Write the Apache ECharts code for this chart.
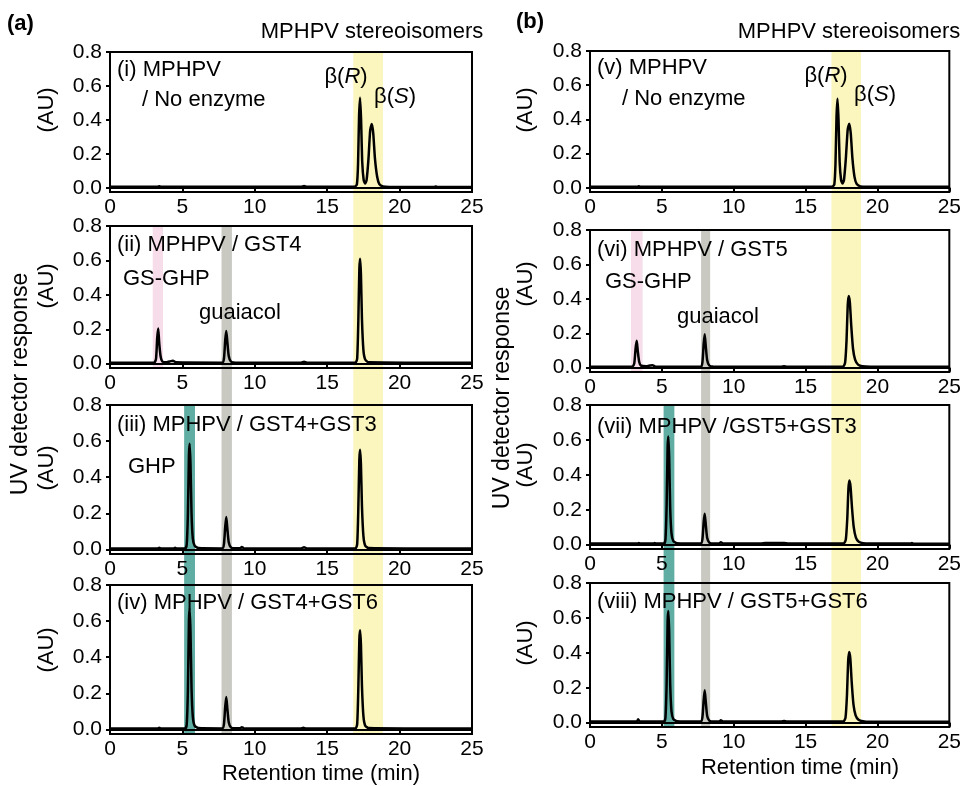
<!DOCTYPE html>
<html>
<head>
<meta charset="utf-8">
<title>MPHPV chromatograms</title>
<script src="https://cdn.jsdelivr.net/npm/echarts@6/dist/echarts.min.js"></script>
<style>
  html, body { margin: 0; padding: 0; background: #fff; }
  #chart { width: 964px; height: 786px; }
</style>
</head>
<body>
<div id="chart"></div>
<script>
// ---- Axis ticks ----
const timeTicks = [0, 5, 10, 15, 20, 25];
const auTicks = [0, 0.2, 0.4, 0.6, 0.8];

// ---- Chromatogram traces: [retention time (min), absorbance (AU)] ----
const traceI = [
  [0, 0.006], [3.3, 0.006], [3.4, 0.009], [3.5, 0.006], [13.2, 0.006], [13.4, 0.01], [13.6, 0.006],
  [16.9, 0.006], [17.05, 0.02], [17.13, 0.14], [17.2, 0.42], [17.27, 0.53], [17.34, 0.4], [17.42, 0.15],
  [17.52, 0.045], [17.62, 0.025], [17.72, 0.045], [17.85, 0.17], [17.97, 0.34], [18.08, 0.375],
  [18.18, 0.32], [18.3, 0.17], [18.45, 0.065], [18.6, 0.022], [18.85, 0.008], [19.3, 0.005],
  [22.4, 0.005], [22.5, 0.008], [22.6, 0.005], [25, 0.005]
];
const traceII = [
  [0, 0.006], [3.05, 0.006], [3.18, 0.03], [3.26, 0.15], [3.33, 0.205], [3.4, 0.12], [3.5, 0.04],
  [3.62, 0.012], [3.9, 0.008], [4.2, 0.015], [4.35, 0.017], [4.55, 0.008], [7.75, 0.006], [7.87, 0.03],
  [7.96, 0.14], [8.03, 0.19], [8.1, 0.13], [8.2, 0.045], [8.35, 0.013], [8.6, 0.007], [13.2, 0.006],
  [13.4, 0.012], [13.6, 0.006], [16.95, 0.006], [17.07, 0.03], [17.15, 0.25], [17.22, 0.55],
  [17.27, 0.61], [17.33, 0.52], [17.4, 0.26], [17.5, 0.08], [17.62, 0.025], [17.85, 0.008], [25, 0.005]
];
const traceIII = [
  [0, 0.006], [3.3, 0.006], [3.4, 0.01], [3.5, 0.006], [4.4, 0.006], [4.5, 0.009], [4.6, 0.006],
  [5.2, 0.006], [5.3, 0.03], [5.38, 0.2], [5.45, 0.52], [5.5, 0.585], [5.56, 0.47], [5.63, 0.2],
  [5.72, 0.06], [5.85, 0.02], [6.1, 0.008], [7.75, 0.006], [7.87, 0.03], [7.96, 0.13], [8.03, 0.18],
  [8.1, 0.12], [8.2, 0.04], [8.35, 0.012], [8.6, 0.007], [9.0, 0.007], [9.1, 0.014], [9.25, 0.007],
  [13.2, 0.006], [13.4, 0.012], [13.6, 0.006], [16.95, 0.006], [17.07, 0.03], [17.15, 0.23],
  [17.22, 0.5], [17.27, 0.552], [17.33, 0.47], [17.4, 0.24], [17.5, 0.075], [17.62, 0.022],
  [17.85, 0.008], [25, 0.005]
];
const traceIV = [
  [0, 0.006], [3.3, 0.006], [3.4, 0.01], [3.5, 0.006], [5.2, 0.006], [5.3, 0.03], [5.38, 0.22],
  [5.45, 0.6], [5.5, 0.67], [5.56, 0.54], [5.63, 0.23], [5.72, 0.07], [5.85, 0.02], [6.1, 0.008],
  [7.75, 0.006], [7.87, 0.03], [7.96, 0.13], [8.03, 0.18], [8.1, 0.12], [8.2, 0.04], [8.35, 0.012],
  [8.6, 0.007], [9.0, 0.007], [9.1, 0.013], [9.25, 0.007], [13.2, 0.006], [13.35, 0.01], [13.5, 0.006],
  [16.95, 0.006], [17.07, 0.03], [17.15, 0.23], [17.22, 0.5], [17.27, 0.55], [17.33, 0.47],
  [17.4, 0.24], [17.5, 0.075], [17.62, 0.022], [17.85, 0.008], [25, 0.005]
];
const traceV = [
  [0, 0.006], [3.3, 0.006], [3.4, 0.008], [3.5, 0.006], [16.85, 0.006], [17.0, 0.02], [17.08, 0.14],
  [17.15, 0.41], [17.22, 0.52], [17.29, 0.4], [17.37, 0.15], [17.47, 0.045], [17.57, 0.025],
  [17.67, 0.045], [17.8, 0.17], [17.93, 0.34], [18.04, 0.375], [18.14, 0.32], [18.26, 0.17],
  [18.4, 0.065], [18.55, 0.022], [18.8, 0.008], [19.3, 0.005], [25, 0.005]
];
const traceVI = [
  [0, 0.006], [2.95, 0.006], [3.08, 0.025], [3.17, 0.11], [3.25, 0.156], [3.32, 0.1], [3.42, 0.035],
  [3.55, 0.012], [3.9, 0.008], [4.2, 0.013], [4.35, 0.014], [4.55, 0.007], [7.7, 0.006], [7.82, 0.03],
  [7.91, 0.14], [7.98, 0.195], [8.05, 0.13], [8.15, 0.045], [8.3, 0.013], [8.55, 0.007], [13.3, 0.006],
  [13.5, 0.009], [13.7, 0.006], [17.6, 0.006], [17.75, 0.03], [17.85, 0.16], [17.93, 0.36],
  [18.0, 0.417], [18.08, 0.38], [18.18, 0.24], [18.3, 0.11], [18.45, 0.045], [18.65, 0.018],
  [18.95, 0.008], [19.5, 0.005], [25, 0.005]
];
const traceVII = [
  [0, 0.006], [3.3, 0.006], [3.4, 0.01], [3.5, 0.006], [4.4, 0.006], [4.5, 0.01], [4.6, 0.006],
  [5.15, 0.006], [5.25, 0.03], [5.33, 0.22], [5.4, 0.56], [5.45, 0.62], [5.51, 0.5], [5.58, 0.21],
  [5.67, 0.065], [5.8, 0.02], [6.05, 0.008], [7.7, 0.006], [7.82, 0.03], [7.91, 0.13], [7.98, 0.177],
  [8.05, 0.12], [8.15, 0.04], [8.3, 0.012], [8.55, 0.007], [9.0, 0.007], [9.1, 0.014], [9.25, 0.007],
  [11.9, 0.006], [12.2, 0.01], [13.5, 0.01], [13.8, 0.006], [17.65, 0.006], [17.8, 0.03],
  [17.9, 0.15], [17.98, 0.32], [18.05, 0.367], [18.13, 0.33], [18.23, 0.21], [18.35, 0.1],
  [18.5, 0.04], [18.7, 0.016], [19.0, 0.008], [20.3, 0.006], [22.3, 0.006], [22.4, 0.009],
  [22.5, 0.006], [25, 0.005]
];
const traceVIII = [
  [0, 0.006], [3.25, 0.006], [3.35, 0.02], [3.45, 0.008], [5.15, 0.006], [5.25, 0.03], [5.33, 0.22],
  [5.4, 0.58], [5.45, 0.64], [5.51, 0.52], [5.58, 0.22], [5.67, 0.065], [5.8, 0.02], [6.05, 0.008],
  [7.7, 0.006], [7.82, 0.03], [7.91, 0.13], [7.98, 0.185], [8.05, 0.125], [8.15, 0.04], [8.3, 0.012],
  [8.55, 0.007], [9.0, 0.007], [9.1, 0.013], [9.25, 0.007], [13.3, 0.006], [13.5, 0.009],
  [13.7, 0.006], [17.63, 0.006], [17.78, 0.03], [17.88, 0.16], [17.96, 0.35], [18.03, 0.405],
  [18.11, 0.37], [18.21, 0.23], [18.33, 0.105], [18.48, 0.042], [18.68, 0.017], [18.98, 0.008],
  [19.5, 0.005], [25, 0.005]
];

const traces = [traceI, traceII, traceIII, traceIV, traceV, traceVI, traceVII, traceVIII];

// ---- Highlighted retention windows (min) ----
const yellowWindow = [16.8, 18.85];   // MPHPV stereoisomers
const grayWindowA = [7.7, 8.42];      // guaiacol
const grayWindowB = [7.73, 8.36];
const pinkWindowA = [2.95, 3.66];     // GS-GHP
const pinkWindowB = [2.85, 3.66];
const tealWindow = [5.12, 5.87];      // GHP

// ---- Layout ----
const FONT = 'Liberation Sans, Arial, sans-serif';
const TICK_SIZE = 21;
const NOTE_SIZE = 22;
const PLOT_W = 362;
const panelBoxes = [
  { left: 110, top: 52, height: 140 },
  { left: 110, top: 226, height: 142 },
  { left: 110, top: 405, height: 149 },
  { left: 110, top: 585, height: 149 },
  { left: 590, top: 51, height: 141 },
  { left: 590, top: 230, height: 142 },
  { left: 590, top: 405, height: 144 },
  { left: 590, top: 583, height: 144 }
];
const Y_MIN = -0.025, Y_MAX = 0.8;

const chart = echarts.init(document.getElementById('chart'));

const grids = [], xAxes = [], yAxes = [], series = [];
panelBoxes.forEach((b, i) => {
  grids.push({
    left: b.left, top: b.top, width: PLOT_W, height: b.height,
    show: true, borderColor: '#000', borderWidth: 2, backgroundColor: 'transparent', z: 1
  });
  xAxes.push({
    type: 'value', gridIndex: i, min: timeTicks[0], max: timeTicks[timeTicks.length - 1], interval: 5,
    axisLine: { show: true, lineStyle: { color: '#000', width: 2 } },
    axisTick: { show: true, inside: false, length: 4, lineStyle: { color: '#000', width: 2 } },
    axisLabel: { show: true, color: '#000', fontSize: TICK_SIZE, fontFamily: FONT, margin: 5 },
    splitLine: { show: false }
  });
  yAxes.push({
    type: 'value', gridIndex: i, min: Y_MIN, max: Y_MAX,
    axisLine: { show: true, lineStyle: { color: '#000', width: 2 } },
    axisTick: { show: true, inside: false, length: 4, customValues: auTicks, lineStyle: { color: '#000', width: 2 } },
    axisLabel: {
      show: true, color: '#000', fontSize: TICK_SIZE, fontFamily: FONT, margin: 8,
      customValues: auTicks, formatter: v => v.toFixed(1)
    },
    splitLine: { show: false }
  });
  series.push({
    type: 'line', xAxisIndex: i, yAxisIndex: i, data: traces[i],
    showSymbol: false, smooth: 0.2, z: 5,
    lineStyle: { color: '#000', width: 2.5 }
  });
});

chart.setOption({
  animation: false,
  backgroundColor: '#fff',
  grid: grids,
  xAxis: xAxes,
  yAxis: yAxes,
  series: series
});

// ---- Shaded retention windows spanning several panels ----
function band(range, firstPanel, lastPanel, color) {
  const p0 = chart.convertToPixel({ gridIndex: firstPanel }, [range[0], Y_MAX]);
  const p1 = chart.convertToPixel({ gridIndex: lastPanel }, [range[1], Y_MIN]);
  return {
    type: 'rect', z: -5, silent: true,
    shape: { x: p0[0], y: p0[1], width: p1[0] - p0[0], height: p1[1] - p0[1] },
    style: { fill: color }
  };
}
const YELLOW = '#fbf5be', GRAY = '#c9c9c2', PINK = '#f7dcea', TEAL = '#5fada3';

function txt(x, y, text, opts) {
  return Object.assign({
    type: 'text', x: x, y: y, z: 10, silent: true,
    style: Object.assign({
      text: text, fill: '#000', fontSize: NOTE_SIZE, fontFamily: FONT,
      align: 'left', verticalAlign: 'middle'
    }, (opts && opts.style) || {})
  }, (opts && opts.el) || {});
}
function centered(x, y, text, size) {
  return txt(x, y, text, { style: { align: 'center', fontSize: size || NOTE_SIZE } });
}
function rotated(x, y, text, size) {
  return txt(x, y, text, { style: { align: 'center', fontSize: size || NOTE_SIZE }, el: { rotation: Math.PI / 2 } });
}
function beta(x, y, iso) {
  return txt(x, y, 'β({it|' + iso + '})', {
    style: { align: 'center', rich: { it: { fontStyle: 'italic', fontSize: NOTE_SIZE, fontFamily: FONT } } }
  });
}

const graphics = [
  band(yellowWindow, 0, 3, YELLOW),
  band(grayWindowA, 1, 3, GRAY),
  band(pinkWindowA, 1, 1, PINK),
  band(tealWindow, 2, 3, TEAL),
  band(yellowWindow, 4, 7, YELLOW),
  band(grayWindowB, 5, 7, GRAY),
  band(pinkWindowB, 5, 5, PINK),
  band(tealWindow, 6, 7, TEAL),

  // headers
  txt(7, 24, '(a)', { style: { fontWeight: 'bold', fontSize: 22 } }),
  txt(516, 22, '(b)', { style: { fontWeight: 'bold', fontSize: 22 } }),
  centered(372, 32, 'MPHPV stereoisomers'),
  centered(849, 32, 'MPHPV stereoisomers'),

  // panel (a)
  txt(117, 70, '(i) MPHPV'),
  txt(142, 100, '/ No enzyme'),
  beta(346, 77, 'R'),
  beta(395, 97, 'S'),
  txt(117, 245, '(ii) MPHPV / GST4'),
  txt(123, 279, 'GS-GHP'),
  txt(199, 313, 'guaiacol'),
  txt(117, 425, '(iii) MPHPV / GST4+GST3'),
  txt(128, 467, 'GHP'),
  txt(117, 603, '(iv) MPHPV / GST4+GST6'),

  // panel (b)
  txt(597, 68, '(v) MPHPV'),
  txt(622, 99, '/ No enzyme'),
  beta(826, 76, 'R'),
  beta(875, 95, 'S'),
  txt(597, 250, '(vi) MPHPV / GST5'),
  txt(605, 282, 'GS-GHP'),
  txt(677, 317, 'guaiacol'),
  txt(597, 427, '(vii) MPHPV /GST5+GST3'),
  txt(597, 602, '(viii) MPHPV / GST5+GST6'),

  // axis titles
  rotated(47, 110, '(AU)'), rotated(47, 286, '(AU)'), rotated(47, 468, '(AU)'), rotated(47, 650, '(AU)'),
  rotated(526, 110, '(AU)'), rotated(526, 284, '(AU)'), rotated(526, 465, '(AU)'), rotated(526, 643, '(AU)'),
  rotated(21, 384, 'UV detector response', 23),
  rotated(503, 398, 'UV detector response', 23),
  centered(321, 774, 'Retention time (min)', 22),
  centered(800, 768, 'Retention time (min)', 22)
];

chart.setOption({ graphic: { elements: graphics } });
</script>
</body>
</html>
